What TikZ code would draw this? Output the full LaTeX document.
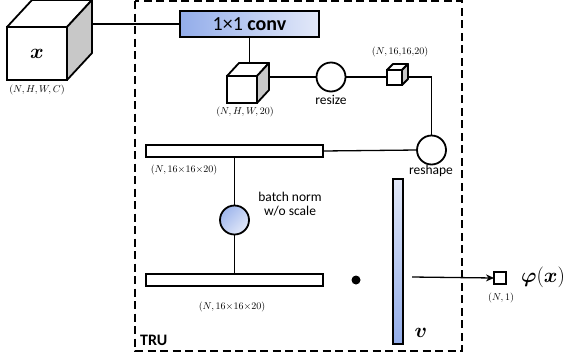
\documentclass[tikz,border=0pt]{standalone}
\usepackage{amsmath,bm}
\usepackage{fontspec}
\setmainfont{Carlito}
\usetikzlibrary{arrows.meta,calc}
\definecolor{bluedark}{HTML}{93ADEA}
\definecolor{bluelight}{HTML}{E3E9F9}
\definecolor{sidegray}{HTML}{C8C8C8}
\tikzset{
  shapeline/.style={draw=black, line width=1.8pt},
  conn/.style={draw=black, line width=1.3pt},
  cubefront/.style={shapeline, fill=white, inner sep=0pt, outer sep=0pt, anchor=north west},
  barbox/.style={shapeline, fill=white, inner sep=0pt, outer sep=0pt, minimum width=177pt, minimum height=12pt},
  opcircle/.style={shapeline, circle, fill=white, inner sep=0pt, outer sep=0pt, minimum size=29pt},
  dimlabel/.style={inner sep=0pt, font=\fontsize{10.3}{11}\selectfont},
  oplabel/.style={inner sep=0pt, font=\fontsize{13.5}{15}\selectfont, align=center},
  tru/.style={draw=black, line width=1.7pt, dash pattern=on 8pt off 4.5pt},
}
\newcommand\mycube[7]{% name, x, y, w, h, dx, dy
  \node[cubefront, minimum width=#4pt, minimum height=#5pt] (#1) at (#2,#3) {};
  \draw[shapeline, fill=white, line join=round] (#1.north west) -- ++(#6,-#7) -- ++(#4,0) -- (#1.north east) -- cycle;
  \draw[shapeline, fill=sidegray, line join=round] (#1.north east) -- ++(#6,-#7) -- ++(0,#5) -- (#1.south east) -- cycle;
  \coordinate (#1-br) at ($(#1.east)+(#6,-#7)$);
  \coordinate (#1-t) at ($(#1.north)+(#6,-#7)$);
}
\begin{document}
\begin{tikzpicture}[x=1pt,y=-1pt]
\useasboundingbox (0,0) rectangle (569,362);
% TRU dashed box
\draw[tru] (135,1) rectangle (462,351);
\node[inner sep=0pt, anchor=west, font=\fontsize{16}{18}\selectfont\bfseries] (trulabel) at (140,340) {TRU};

% input cube
\mycube{xc}{7}{27}{60}{53}{25}{27}
\node[inner sep=0pt, font=\fontsize{21}{22}\selectfont] (xlabel) at (xc.center) {$\bm{x}$};
\node[dimlabel] (xdim) at (37,90) {$(N,H,W,C)$};

% conv box
\node[shapeline, left color=bluedark, right color=bluelight, minimum width=139pt, minimum height=26pt, inner sep=0pt, outer sep=0pt,
  font=\fontsize{20}{21}\selectfont] (conv) at (249.5,24) {1×1 \textbf{conv}};
\draw[conn] (conv.west) -- (conv.west -| xc-br);

% cube after conv
\mycube{c1}{227}{76}{30}{27}{12}{13}
\node[dimlabel] (c1dim) at (245,112) {$(N,H,W,20)$};
\draw[conn] (conv.south) -- (conv.south |- c1-t);

% resize
\node[opcircle] (resize) at (331,77) {};
\node[oplabel] (resizelbl) at (331,100) {resize};
\draw[conn] (c1-br |- resize) -- (resize.west);

% tiny cube
\mycube{tc}{387}{70}{15}{15}{6}{6}
\node[dimlabel] (tcdim) at (400,52) {$(N,16{,}16{,}20)$};
\draw[conn] (resize.east) -- (resize.east -| tc.west);

% reshape
\node[opcircle] (reshape) at (431.5,150) {};
\node[oplabel] (reshapelbl) at (431,171) {reshape};
\draw[conn] (tc-br |- resize) -| (reshape.north);

% bar 1
\node[barbox] (bar1) at (234.5,151) {};
\node[dimlabel] (bar1dim) at (184,170) {$(N,16{\times}16{\times}20)$};
\draw[conn] (reshape.west) -- (bar1.east);

% batch norm circle
\node[opcircle, shading=axis, top color=bluedark!85!bluelight, bottom color=bluelight, shading angle=45] (bn) at (234.5,220) {};
\node[oplabel] (bnlbl) at (290,204) {batch norm\\[-1pt]w/o scale};

% bar 2
\node[barbox] (bar2) at (234.5,280) {};
\node[dimlabel] (bar2dim) at (232,307) {$(N,16{\times}16{\times}20)$};
\draw[conn] (bar1.south -| bn) -- (bn.north);
\draw[conn] (bn.south) -- (bar2.north -| bn);

% dot
\node[circle, fill=black, inner sep=0pt, minimum size=9pt] (dot) at (356,280) {};

% v bar
\node[shapeline, top color=bluelight, bottom color=bluedark, minimum width=10pt, minimum height=165pt, inner sep=0pt, outer sep=0pt] (vbar) at (398,261.5) {};
\node[inner sep=0pt, font=\fontsize{20}{21}\selectfont] (vlabel) at (421,333) {$\bm{v}$};

% output
\coordinate (vout) at (412,277);
\node[shapeline, line width=1.5pt, fill=white, minimum size=12pt, inner sep=0pt, outer sep=0pt] (outsq) at (500,278) {};
\draw[conn, -{Stealth[length=8pt,width=7pt]}] (vout) -- (outsq.west);
\node[dimlabel] (outdim) at (501,298) {$(N,1)$};
\node[inner sep=0pt, font=\fontsize{21}{22}\selectfont] (philbl) at (543,277) {$\bm{\varphi}(\bm{x})$};
\end{tikzpicture}
\end{document}
